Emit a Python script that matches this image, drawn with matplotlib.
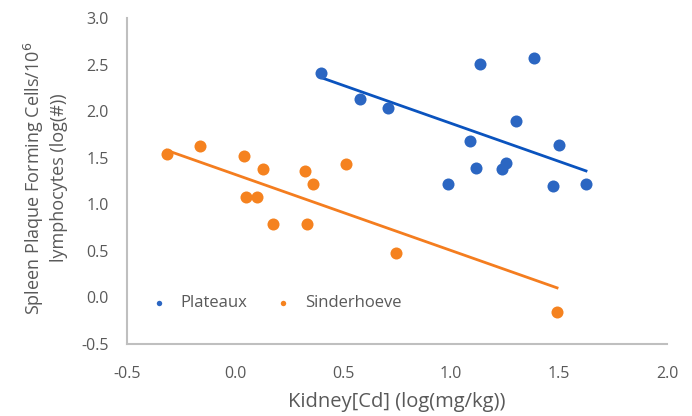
import numpy as np
import matplotlib
matplotlib.use("Agg")
import matplotlib.pyplot as plt
from matplotlib.ticker import FormatStrFormatter

plt.rcParams['font.family'] = ['Open Sans', 'DejaVu Sans']
plt.rcParams['axes.unicode_minus'] = False

# Plateaux site
plateaux_x = [0.40, 0.58, 0.71, 0.985, 1.09, 1.116, 1.134, 1.235, 1.255, 1.30, 1.384, 1.474, 1.50, 1.625]
plateaux_y = [2.41, 2.13, 2.03, 1.22, 1.68, 1.39, 2.51, 1.38, 1.44, 1.89, 2.57, 1.20, 1.64, 1.22]

# Sinderhoeve site
sinder_x = [-0.316, -0.162, 0.040, 0.131, 0.051, 0.102, 0.177, 0.325, 0.360, 0.335, 0.514, 0.747, 1.491]
sinder_y = [1.54, 1.63, 1.52, 1.38, 1.08, 1.08, 0.79, 1.36, 1.22, 0.79, 1.43, 0.48, -0.16]

# fitted trendlines (common slope, separate intercepts)
trend_slope = -0.817
plateaux_intercept = 2.686
sinder_intercept = 1.321

x_ticks = [-0.5, 0.0, 0.5, 1.0, 1.5, 2.0]
y_ticks = [-0.5, 0.0, 0.5, 1.0, 1.5, 2.0, 2.5, 3.0]

blue = '#2B66C2'
blue_line = '#0A53BE'
orange = '#F5821F'
orange_line = '#F47D1F'
text_col = '#595959'

fig = plt.figure(figsize=(6.92, 4.16), dpi=100)
ax = fig.add_axes([127 / 692, (416 - 344) / 416, 540 / 692, 326 / 416])

ax.scatter(plateaux_x, plateaux_y, s=75, color=blue, label='Plateaux', zorder=3, linewidths=0)
ax.scatter(sinder_x, sinder_y, s=75, color=orange, label='Sinderhoeve', zorder=3, linewidths=0)

for xs, b, c in [(plateaux_x, plateaux_intercept, blue_line), (sinder_x, sinder_intercept, orange_line)]:
    xx = np.array([min(xs), max(xs)])
    ax.plot(xx, trend_slope * xx + b, color=c, lw=2.0, zorder=2)

ax.set_xlim(-0.5, 2.0)
ax.set_ylim(-0.5, 3.0)
ax.set_xticks(x_ticks)
ax.set_yticks(y_ticks)
ax.xaxis.set_major_formatter(FormatStrFormatter('%.1f'))
ax.yaxis.set_major_formatter(FormatStrFormatter('%.1f'))
ax.tick_params(length=0, labelsize=11.5, colors=text_col)
ax.tick_params(axis='x', pad=16)
ax.tick_params(axis='y', pad=13)

for side in ['top', 'right']:
    ax.spines[side].set_visible(False)
for side in ['left', 'bottom']:
    ax.spines[side].set_color('#BFBFBF')
    ax.spines[side].set_linewidth(1.5)

ax.set_xlabel('Kidney[Cd] (log(mg/kg))', fontsize=14.5, color=text_col, labelpad=7)
fig.text(45 / 692, 1 - 178 / 416, 'Spleen Plaque Forming Cells/10$^6$\nlymphocytes (log(#))',
         rotation=90, ha='center', va='center', ma='center', fontsize=13,
         color=text_col, linespacing=1.35)

leg = ax.legend(loc='lower left', bbox_to_anchor=(0.0, 0.055), frameon=False, ncol=2,
                fontsize=12, markerscale=0.45, handletextpad=0.3, columnspacing=1.15)
for t in leg.get_texts():
    t.set_color(text_col)

fig.savefig('out.png', dpi=100)
